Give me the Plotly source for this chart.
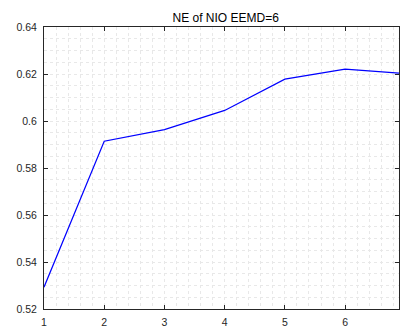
import plotly.graph_objects as go

x_vals = [1, 2, 3, 4, 5, 6, 7]
ne_vals = [0.5293, 0.5914, 0.5963, 0.6045, 0.6178, 0.6221, 0.6202]
x_ticks = [1, 2, 3, 4, 5, 6, 7]
y_ticks = [0.52, 0.54, 0.56, 0.58, 0.60, 0.62, 0.64]
y_tick_labels = ["0.52", "0.54", "0.56", "0.58", "0.6", "0.62", "0.64"]

axis_col = "#262626"
grid_col = "#e8e8e8"
font = dict(family="Liberation Sans, Arial, sans-serif", size=10.5, color=axis_col)

fig = go.Figure()
fig.add_trace(go.Scatter(x=x_vals, y=ne_vals, mode="lines",
                         line=dict(color="#0000ff", width=1.2), showlegend=False))

fig.update_layout(
    width=400, height=328,
    margin=dict(l=44, r=0, t=27, b=17),
    paper_bgcolor="white", plot_bgcolor="white",
    font=font,
    title=dict(text="NE of NIO EEMD=6", x=225.7/400, xanchor="center",
               y=1 - 17.5/328, yanchor="middle",
               font=dict(family="Liberation Sans, Arial, sans-serif", size=12, color="#000000")),
)
fig.update_xaxes(
    range=[1, 6.895], tickvals=x_ticks, ticktext=[str(v) for v in x_ticks],
    showline=True, linecolor=axis_col, linewidth=1, mirror="ticks",
    ticks="inside", ticklen=4, tickcolor=axis_col, tickwidth=1,
    showgrid=True, gridcolor=grid_col, griddash="dot", gridwidth=1,
    minor=dict(dtick=0.2, showgrid=True, gridcolor=grid_col, griddash="dot", gridwidth=1, ticks=""),
    zeroline=False, ticklabelstandoff=3,
)
fig.update_yaxes(
    range=[0.52, 0.64], tickvals=y_ticks, ticktext=y_tick_labels,
    showline=True, linecolor=axis_col, linewidth=1, mirror="ticks",
    ticks="inside", ticklen=4, tickcolor=axis_col, tickwidth=1,
    showgrid=True, gridcolor=grid_col, griddash="dot", gridwidth=1,
    minor=dict(dtick=0.005, showgrid=True, gridcolor=grid_col, griddash="dot", gridwidth=1, ticks=""),
    zeroline=False, ticklabelstandoff=4,
)

fig.write_html("out.html")
